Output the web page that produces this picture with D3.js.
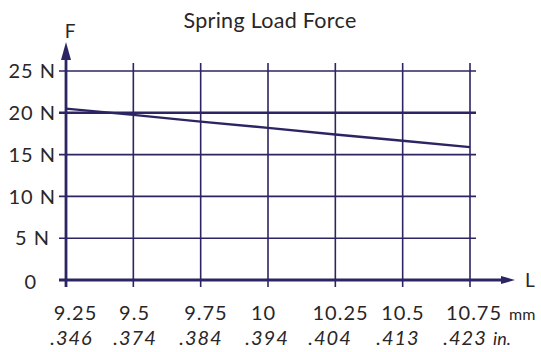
<!DOCTYPE html>
<html><head><meta charset="utf-8">
<script src="https://cdn.jsdelivr.net/npm/d3@7"></script>
<style>body{margin:0;background:#fff}svg{display:block}</style>
</head><body>
<script>
const title = "Spring Load Force";
const xTicksMm = [9.25, 9.5, 9.75, 10, 10.25, 10.5, 10.75];
const xLabelsMm = ["9.25", "9.5", "9.75", "10", "10.25", "10.5", "10.75"];
const xLabelsIn = [".346", ".374", ".384", ".394", ".404", ".413", ".423"];
const yTicks = [0, 5, 10, 15, 20, 25];
const yLabels = ["0", "5 N", "10 N", "15 N", "20 N", "25 N"];
const lineX = [9.25, 9.5, 9.75, 10, 10.25, 10.5, 10.75];
const lineY = [20.5, 19.75, 18.95, 18.2, 17.4, 16.65, 15.9];

const W = 541, H = 352;
const navy = "#2c2563", ink = "#2a2627";
const font = "Lato, 'Open Sans', sans-serif";
const svg = d3.select("body").append("svg").attr("width", W).attr("height", H);

const x = d3.scaleLinear().domain([9.25, 10.75]).range([66, 470]);
const y = d3.scaleLinear().domain([0, 25]).range([280, 71]);

// horizontal grid
svg.append("g").selectAll("line").data(yTicks.filter(d => d > 0)).join("line")
  .attr("x1", 59).attr("x2", 476)
  .attr("y1", d => y(d)).attr("y2", d => y(d))
  .attr("stroke", navy).attr("stroke-width", d => d === 20 ? 2.6 : 1.6);
// vertical grid
svg.append("g").selectAll("line").data(xTicksMm.filter(d => d > 9.25)).join("line")
  .attr("x1", d => x(d)).attr("x2", d => x(d))
  .attr("y1", 63).attr("y2", 287)
  .attr("stroke", navy).attr("stroke-width", 1.6);

// axes
svg.append("line").attr("x1", 59).attr("x2", 503).attr("y1", y(0)).attr("y2", y(0))
  .attr("stroke", navy).attr("stroke-width", 2.8);
svg.append("line").attr("x1", x(9.25)).attr("x2", x(9.25)).attr("y1", 58).attr("y2", 287)
  .attr("stroke", navy).attr("stroke-width", 2.8);
// arrowheads
svg.append("path").attr("d", `M${x(9.25)},42 L${x(9.25)+5},60 L${x(9.25)-5},60 Z`).attr("fill", navy);
svg.append("path").attr("d", `M515,${y(0)} L501,${y(0)-4} L501,${y(0)+4} Z`).attr("fill", navy);

// data line
svg.append("path").datum(lineX.map((d, i) => [d, lineY[i]]))
  .attr("d", d3.line().x(d => x(d[0])).y(d => y(d[1])))
  .attr("fill", "none").attr("stroke", navy).attr("stroke-width", 2.4);

// y labels
const yOff = [-19, -6, 0, 0, 0, 0];
const yDy = [2, 0, 0, 0, 0, 0];
svg.append("g").selectAll("text").data(yTicks).join("text")
  .attr("x", (d, i) => 56 + yOff[i]).attr("y", (d, i) => y(d) + yDy[i]).attr("dy", "0.36em")
  .attr("text-anchor", "end").attr("font-family", font).attr("font-size", 20)
  .attr("letter-spacing", 1)
  .attr("fill", ink).text((d, i) => yLabels[i]);

// x labels mm
const mmOff = [9.5, 1.2, 5.3, -4.5, 5.2, 0.3, 4];
svg.append("g").selectAll("text").data(xTicksMm).join("text")
  .attr("x", (d, i) => x(d) + mmOff[i]).attr("y", 320)
  .attr("text-anchor", "middle").attr("font-family", font).attr("font-size", 20)
  .attr("letter-spacing", 1)
  .attr("fill", ink).text((d, i) => xLabelsMm[i]);
svg.append("text").attr("x", 509).attr("y", 320).attr("font-family", font)
  .attr("font-size", 16).attr("fill", ink).text("mm");
const inOff = [5.5, 1.7, 0.3, -1, -5.3, -4.7, -5];
svg.append("g").selectAll("text").data(xTicksMm).join("text")
  .attr("x", (d, i) => x(d) + inOff[i]).attr("y", 345)
  .attr("text-anchor", "middle").attr("font-family", font).attr("font-size", 20)
  .attr("letter-spacing", 1)
  .attr("font-style", "italic").attr("fill", ink).text((d, i) => xLabelsIn[i]);
svg.append("text").attr("x", 493).attr("y", 345).attr("font-family", font)
  .attr("font-size", 18).attr("font-style", "italic").attr("fill", ink).text("in.");

// axis letters
svg.append("text").attr("x", 70).attr("y", 38).attr("text-anchor", "middle")
  .attr("font-family", font).attr("font-size", 19).attr("fill", ink).text("F");
svg.append("text").attr("x", 525).attr("y", 287)
  .attr("font-family", font).attr("font-size", 19).attr("fill", ink).text("L");

// title
svg.append("text").attr("x", 270).attr("y", 27.5).attr("text-anchor", "middle")
  .attr("font-family", font).attr("font-size", 21.5).attr("letter-spacing", 0.3)
  .attr("fill", ink).text(title);
</script>
</body></html>
